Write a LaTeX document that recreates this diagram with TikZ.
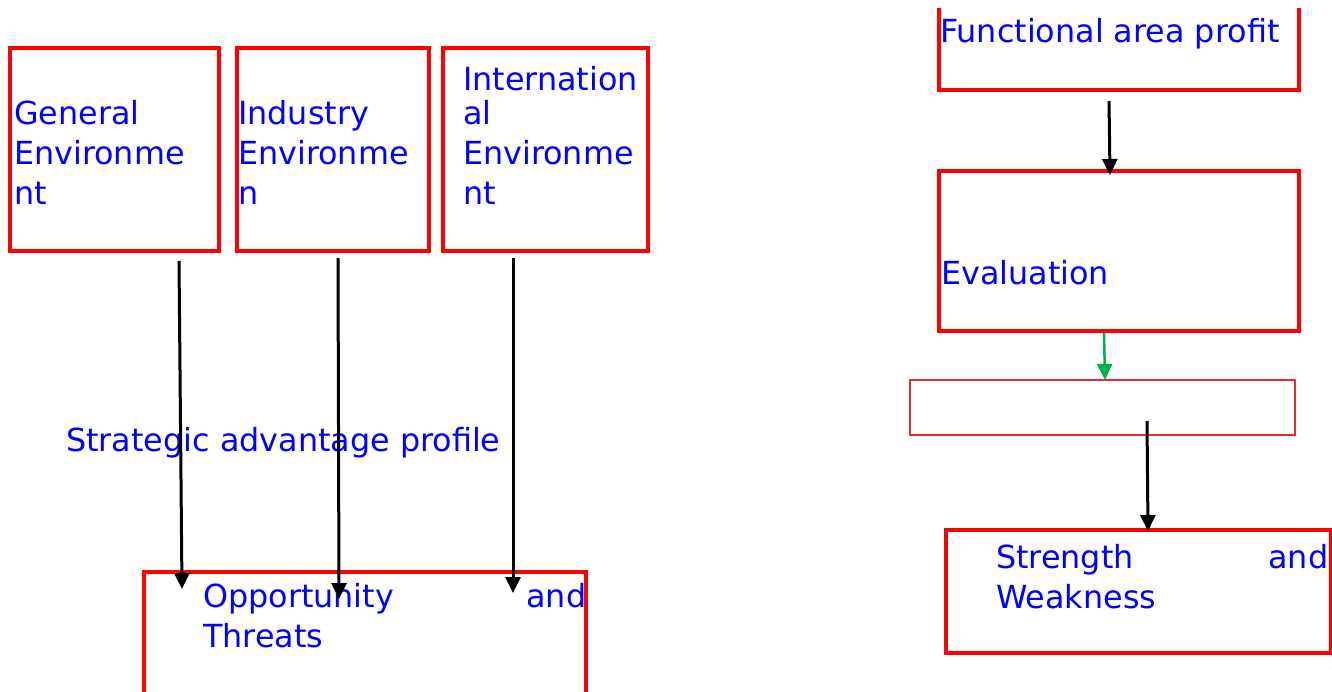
\documentclass[tikz,border=0pt]{standalone}
\usepackage{fontspec}
\setmainfont{DejaVu Sans}
\usetikzlibrary{arrows.meta}
\definecolor{boxred}{RGB}{255,0,0}
\definecolor{thinred}{RGB}{225,45,45}
\definecolor{txtblue}{RGB}{0,0,255}
\definecolor{arrgreen}{RGB}{0,176,80}
\begin{document}
\begin{tikzpicture}[x=1pt,y=-1pt,
  box/.style={draw=boxred,line width=3.2pt,inner sep=0pt},
  thinbox/.style={draw=thinred,line width=1.6pt,inner sep=0pt},
  lbl/.style={text=txtblue,inner sep=0pt,anchor=base west,align=left,font=\fontsize{31.8}{40}\selectfont},
  arr/.style={draw=black,line width=3pt,-{Triangle[width=15pt,length=16pt]}},
  garr/.style={draw=arrgreen,line width=2.5pt,-{Triangle[width=15pt,length=16pt]}}
]
\useasboundingbox (0,0) rectangle (1332,691);
\clip (0,0) rectangle (1332,691);

% boxes
\node[box,minimum width=209pt,minimum height=203pt] (gen) at (114.5,149.5) {};
\node[box,minimum width=192pt,minimum height=203pt] (ind) at (333,149.5) {};
\node[box,minimum width=205pt,minimum height=203pt] (int) at (545.5,149.5) {};
\node[box,minimum width=360pt,minimum height=160pt] (eval) at (1119,251) {};
\node[thinbox,minimum width=385pt,minimum height=55pt] (blank) at (1102.5,407.5) {};
\node[box,minimum width=385pt,minimum height=123pt] (sw) at (1138.5,591.5) {};
% open boxes
\draw[boxred,line width=3.2pt] (144,700) |- (586,572) -- (586,700);
\draw[boxred,line width=3.2pt] (939,8) |- (1299,90) -- (1299,8);

% texts (base anchor of these multi-line nodes is the last line)
\node[lbl] (tgen) at (14,204) {General\\Environme\\nt};
\node[lbl] (tind) at (238,204) {Industry\\Environme\\n};
\node[lbl] (tint) at (463,204) {Internation\\[-6pt]al\\Environme\\nt};
\node[lbl] (tsap) at (66,451) {Strategic advantage profile};
\node[lbl,text width=383pt] (topp) at (203,607) {Opportunity\hfill and\\Threats};
\node[lbl] (tfun) at (940,42) {Functional area profit};
\node[lbl] (teval) at (941,284) {Evaluation};
\node[lbl,text width=332pt] (tsw) at (996,568) {Strength\hfill and\\Weakness};

% arrow ends
\coordinate (a1s) at (179,261); \coordinate (a1e) at (182,589);
\coordinate (a2s) at (338,258); \coordinate (a2e) at (339,599);
\coordinate (a3s) at (513,258); \coordinate (a3e) at (513,593);
\coordinate (a4s) at (1109,101); \coordinate (a4e) at (1110,175);
\coordinate (a5s) at (1104,333); \coordinate (a5e) at (1105,380);
\coordinate (a6s) at (1147,421); \coordinate (a6e) at (1148,531);

\draw[arr] (a1s) -- (a1e);
\draw[arr] (a2s) -- (a2e);
\draw[arr] (a3s) -- (a3e);
\draw[arr] (a4s) -- (a4e);
\draw[garr] (a5s) -- (a5e);
\draw[arr] (a6s) -- (a6e);
\end{tikzpicture}
\end{document}
